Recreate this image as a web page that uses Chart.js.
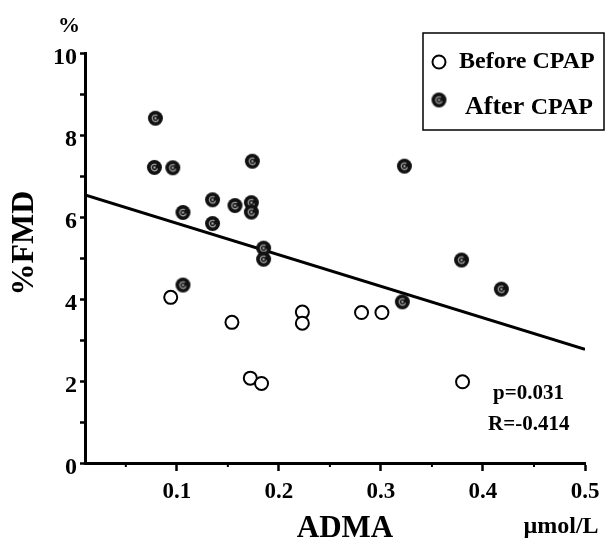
<!DOCTYPE html>
<html>
<head>
<meta charset="utf-8">
<script src="https://cdn.jsdelivr.net/npm/chart.js@4/dist/chart.umd.min.js"></script>
<style>
html,body{margin:0;padding:0;background:#fff;}
canvas{display:block;}
</style>
</head>
<body>
<canvas id="c" width="612" height="540"></canvas>
<script>
// ---- data ----
const beforeX = [0.094, 0.154, 0.223, 0.223, 0.172, 0.183, 0.281, 0.301, 0.380];
const beforeY = [4.04, 3.43, 3.68, 3.41, 2.07, 1.94, 3.67, 3.67, 1.98];
const afterX = [0.079, 0.078, 0.096, 0.174, 0.135, 0.157, 0.173, 0.173, 0.106, 0.135, 0.185, 0.185, 0.106, 0.323, 0.379, 0.418, 0.321];
const afterY = [8.41, 7.21, 7.20, 7.36, 6.42, 6.28, 6.35, 6.12, 6.11, 5.84, 5.24, 4.97, 4.34, 7.24, 4.95, 4.24, 3.93];
const fitX = [0.01, 0.5];
const fitY = [6.54, 2.77];
const xMajorTicks = [0.1, 0.2, 0.3, 0.4, 0.5];
const xMinorTicks = [0.05, 0.15, 0.25, 0.35, 0.45];
const yTicks = [0, 1, 2, 3, 4, 5, 6, 7, 8, 9, 10];
const yLabelTicks = [0, 2, 4, 6, 8, 10];
const seriesNames = ['Before CPAP', 'After CPAP'];
const statText = ['p=0.031', 'R=-0.414'];

const SERIF = '"Liberation Serif", "DejaVu Serif", serif';

// filled marker style
function makeFilledMarker() {
  const c = document.createElement('canvas');
  c.width = 17; c.height = 17;
  const g = c.getContext('2d');
  g.fillStyle = '#111';
  g.beginPath(); g.arc(8.5, 8.5, 7.5, 0, Math.PI * 2); g.fill();
  g.strokeStyle = '#9a9a9a'; g.lineWidth = 1.3;
  g.beginPath(); g.arc(8.5, 8.5, 3.2, 0.3, Math.PI * 1.7); g.stroke();
  g.fillStyle = '#bbb';
  g.fillRect(7.5, 7.5, 2, 2);
  return c;
}
const filledMarker = makeFilledMarker();

const toPts = (xs, ys) => xs.map((x, i) => ({ x: x, y: ys[i] }));

const overlay = {
  id: 'overlay',
  afterDraw(chart) {
    const ctx = chart.ctx;
    const xs = chart.scales.x, ys = chart.scales.y;
    ctx.save();
    // minor x ticks
    ctx.strokeStyle = '#000'; ctx.lineWidth = 2;
    const yb = ys.getPixelForValue(0);
    xMinorTicks.forEach(v => {
      const px = xs.getPixelForValue(v);
      ctx.beginPath(); ctx.moveTo(px, yb); ctx.lineTo(px, yb + 4); ctx.stroke();
    });
    ctx.fillStyle = '#000';
    // "%" unit top-left
    ctx.font = 'bold 22px ' + SERIF;
    ctx.textAlign = 'center'; ctx.textBaseline = 'alphabetic';
    ctx.fillText('%', 69, 32);
    // y title
    ctx.save();
    ctx.translate(33, 243);
    ctx.rotate(-Math.PI / 2);
    ctx.font = 'bold 32px ' + SERIF;
    ctx.textAlign = 'center';
    ctx.fillText('%FMD', 0, 0);
    ctx.restore();
    // x title
    ctx.font = 'bold 31px ' + SERIF;
    ctx.textAlign = 'center';
    ctx.fillText('ADMA', 345, 537);
    ctx.font = 'bold 24px ' + SERIF;
    ctx.fillText('\u00B5mol/L', 561, 533);
    // stats
    ctx.font = 'bold 21px ' + SERIF;
    ctx.textAlign = 'left';
    ctx.fillText(statText[0], 493, 399);
    ctx.fillText(statText[1], 488, 430);
    // legend box
    ctx.lineWidth = 1.5; ctx.strokeStyle = '#000';
    ctx.strokeRect(423, 33, 181, 97);
    // before marker
    ctx.fillStyle = '#fff'; ctx.lineWidth = 2;
    ctx.beginPath(); ctx.arc(439, 62, 6.5, 0, Math.PI * 2); ctx.fill(); ctx.stroke();
    ctx.drawImage(filledMarker, 439 - 8.5, 100 - 8.5);
    ctx.fillStyle = '#000';
    ctx.font = 'bold 24px ' + SERIF;
    ctx.fillText(seriesNames[0], 459, 68);
    ctx.font = 'bold 26px ' + SERIF;
    const parts = seriesNames[1].split(' ');
    ctx.fillText(parts[0], 465, 114);
    const w = ctx.measureText(parts[0] + ' ').width;
    ctx.font = 'bold 24px ' + SERIF;
    ctx.fillText(parts[1], 465 + w, 114);
    ctx.restore();
  }
};

new Chart(document.getElementById('c'), {
  type: 'scatter',
  data: {
    datasets: [
      {
        label: seriesNames[0],
        data: toPts(beforeX, beforeY),
        pointStyle: 'circle',
        pointRadius: 6.5,
        pointHoverRadius: 6.5,
        backgroundColor: '#fff',
        borderColor: '#000',
        borderWidth: 2,
        order: 1
      },
      {
        label: seriesNames[1],
        data: toPts(afterX, afterY),
        pointStyle: filledMarker,
        pointRadius: 7.5,
        backgroundColor: '#111',
        borderColor: '#000',
        order: 1
      },
      {
        type: 'line',
        label: 'fit',
        data: toPts(fitX, fitY),
        showLine: true,
        pointRadius: 0,
        borderColor: '#000',
        borderWidth: 3,
        fill: false,
        order: 5
      }
    ]
  },
  options: {
    responsive: false,
    animation: false,
    devicePixelRatio: 1,
    layout: { padding: { left: 0, top: 53, right: 27, bottom: 0 } },
    plugins: { legend: { display: false }, tooltip: { enabled: false } },
    scales: {
      x: {
        type: 'linear',
        min: 0.01,
        max: 0.5,
        afterBuildTicks: (axis) => { axis.ticks = xMajorTicks.map(v => ({ value: v })); },
        afterFit: (axis) => { axis.height = 77; },
        ticks: {
          color: '#000',
          font: { family: SERIF, size: 23, weight: 'bold' },
          padding: 7,
          maxRotation: 0,
          autoSkip: false,
          callback: (v) => String(Math.round(v * 10) / 10)
        },
        grid: { drawOnChartArea: false, drawTicks: true, tickLength: 8, tickWidth: 2.5, tickColor: '#000' },
        border: { display: true, color: '#000', width: 3 }
      },
      y: {
        type: 'linear',
        min: 0,
        max: 10,
        afterBuildTicks: (axis) => { axis.ticks = yTicks.map(v => ({ value: v })); },
        afterFit: (axis) => { axis.width = 85; },
        ticks: {
          color: '#000',
          font: { family: SERIF, size: 24, weight: 'bold' },
          padding: 3,
          labelOffset: 5,
          autoSkip: false,
          callback: (v) => (yLabelTicks.includes(v) ? String(v) : '')
        },
        grid: { drawOnChartArea: false, drawTicks: true, tickLength: 5, tickWidth: 2.5, tickColor: '#000' },
        border: { display: true, color: '#000', width: 3 }
      }
    }
  },
  plugins: [overlay]
});
</script>
</body>
</html>
